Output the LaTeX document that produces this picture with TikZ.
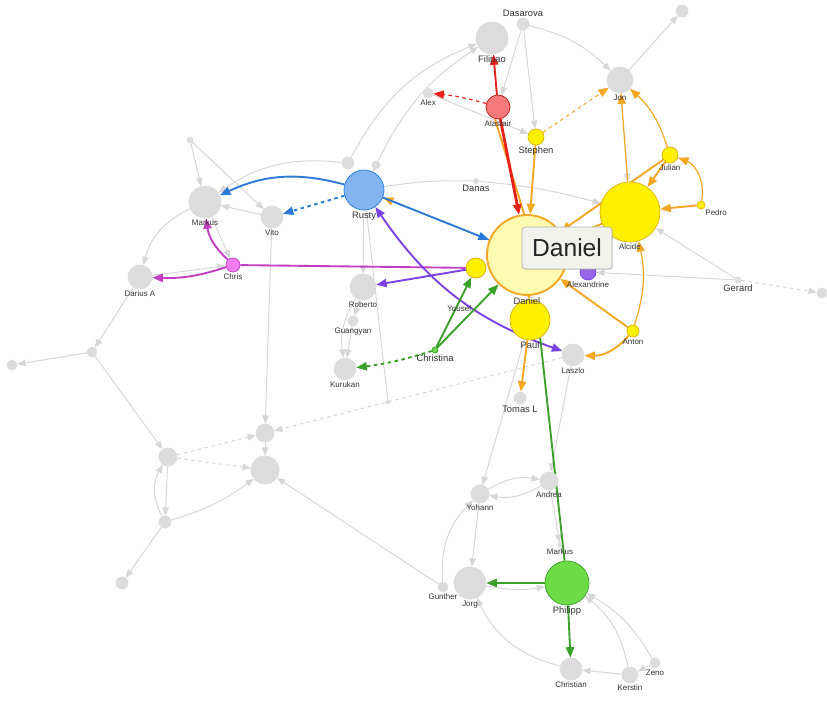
\documentclass[tikz,border=0pt]{standalone}
\usepackage{fontspec}
\setsansfont{Liberation Sans}
\usepackage{tikz}
\usetikzlibrary{arrows.meta,backgrounds,shadows}
\definecolor{NetGray}{HTML}{DCDCDC}
\definecolor{NetLine}{HTML}{D6D6D6}
\definecolor{NetInk}{HTML}{333333}
\definecolor{NetYellow}{HTML}{FFF000}
\definecolor{NetYellowLine}{HTML}{E0B000}
\definecolor{NetPale}{HTML}{FFFBB0}
\definecolor{NetOrange}{HTML}{F5A623}
\definecolor{NetRed}{HTML}{E8201A}
\definecolor{NetRedFill}{HTML}{F77A7A}
\definecolor{NetBlue}{HTML}{2A7AD5}
\definecolor{NetBlueFill}{HTML}{82B4F2}
\definecolor{NetMagenta}{HTML}{C23FC2}
\definecolor{NetMagentaFill}{HTML}{F07EF0}
\definecolor{NetPurple}{HTML}{7B42E3}
\definecolor{NetGreen}{HTML}{3AA02A}
\definecolor{NetGreenFill}{HTML}{6CDB45}
\definecolor{NetTip}{HTML}{F2F2EC}
\tikzset{
  netlabel/.style={font=\sffamily\fontsize{8}{9}\selectfont, text=NetInk, inner sep=1pt},
  netsmall/.style={font=\sffamily\fontsize{6.8}{8}\selectfont, text=NetInk, inner sep=1pt},
  netnode/.style={circle, inner sep=0pt, line width=0.6pt, minimum size=2*#1*0.03cm},
  graynode/.style={netnode=#1, fill=NetGray, draw=NetGray},
  yellownode/.style={netnode=#1, fill=NetYellow, draw=NetYellowLine},
  danielnode/.style={netnode=#1, fill=NetPale, draw=NetOrange, line width=1.6pt},
  rednode/.style={netnode=#1, fill=NetRedFill, draw=NetRed!80!black},
  bluenode/.style={netnode=#1, fill=NetBlueFill, draw=NetBlue},
  magnode/.style={netnode=#1, fill=NetMagentaFill, draw=NetMagenta},
  purnode/.style={netnode=#1, fill=NetPurple!80, draw=NetPurple},
  greennode/.style={netnode=#1, fill=NetGreenFill, draw=NetGreen},
  tipbox/.style={draw=black!30, fill=NetTip, rounded corners=3pt, line width=0.6pt,
    minimum width=2.7cm, minimum height=1.26cm, font=\sffamily\fontsize{21}{24}\selectfont,
    text=black!85, drop shadow={opacity=0.2, shadow xshift=1pt, shadow yshift=-1pt}},
  grayedge/.style={draw=NetLine, line width=0.8pt, -{Triangle[length=7pt,width=5.5pt]}},
  coloredge/.style={line width=1.6pt, -{Triangle[length=9pt,width=7pt]}},
  rededge/.style={coloredge, draw=NetRed},
  orangeedge/.style={coloredge, draw=NetOrange},
  blueedge/.style={coloredge, draw=NetBlue},
  magedge/.style={coloredge, draw=NetMagenta},
  puredge/.style={coloredge, draw=NetPurple},
  greenedge/.style={coloredge, draw=NetGreen}
}
\begin{document}
\begin{tikzpicture}[x=0.03cm, y=-0.03cm]
\useasboundingbox (0,0) rectangle (827,712);
% gray nodes
\node[graynode=16, label={[netlabel]below:Filipao}] (fil) at (492,38) {};
\node[graynode=6, label={[netlabel]above:Dasarova}] (dsv) at (523,24) {};
\node[graynode=5, label={[netsmall]below:Alex}] (alx) at (428,93) {};
\node[graynode=13, label={[netsmall]below:Jon}] (jon) at (620,80) {};
\node[graynode=6] (tpr) at (682,11) {};
\node[graynode=2.5, label={[netlabel]below:Danas}] (dns) at (476,181) {};
\node[graynode=3, label={[netlabel]below:Gerard}] (ger) at (738,280) {};
\node[graynode=5] (far) at (822,293) {};
\node[graynode=11, label={[netsmall]below:Laszlo}] (las) at (573,355) {};
\node[graynode=6, label={[netlabel]below:Tomas L}] (tom) at (520,398) {};
\node[graynode=16, label={[netsmall]below:Markus}] (mar) at (205,202) {};
\node[graynode=11, label={[netsmall]below:Vito}] (vit) at (272,217) {};
\node[graynode=12, label={[netsmall]below:Darius A}] (dar) at (140,277) {};
\node[graynode=13, label={[netsmall]below:Roberto}] (rob) at (363,287) {};
\node[graynode=5, label={[netsmall]below:Guangyan}] (gua) at (353,321) {};
\node[graynode=11, label={[netsmall]below:Kurukan}] (kur) at (345,369) {};
\node[graynode=5] (gcl) at (92,352) {};
\node[graynode=5] (gfl) at (12,365) {};
\node[graynode=9] (gmd) at (168,457) {};
\node[graynode=9] (gtp) at (265,433) {};
\node[graynode=14] (gbg) at (265,470) {};
\node[graynode=6] (glo) at (165,522) {};
\node[graynode=6] (gbl) at (122,583) {};
\node[graynode=2] (jct) at (388,402) {};
\node[graynode=3] (gta) at (190,140) {};
\node[graynode=6] (gtb) at (348,163) {};
\node[graynode=4] (gtc) at (376,165) {};
\node[graynode=9, label={[netsmall]below:Yohann}] (yoh) at (480,494) {};
\node[graynode=9, label={[netsmall]below:Andrea}] (adr) at (549,481) {};
\node[graynode=2, label={[netsmall]below:Markus}] (mk2) at (560,545) {};
\node[graynode=16, label={[netsmall]below:Jorg}] (jor) at (470,583) {};
\node[graynode=5, label={[netsmall]below:Gunther}] (gun) at (443,587) {};
\node[graynode=11, label={[netsmall]below:Christian}] (chn) at (571,669) {};
\node[graynode=8, label={[netsmall]below:Kerstin}] (ker) at (630,675) {};
\node[graynode=5, label={[netsmall]below:Zeno}] (zen) at (655,663) {};
% coloured nodes
\node[rednode=12, label={[netsmall]below:Alastair}] (ala) at (498,107) {};
\node[yellownode=8, label={[netlabel]below:Stephen}] (ste) at (536,137) {};
\node[yellownode=8, label={[netsmall]below:Julian}] (jul) at (670,155) {};
\node[yellownode=4, label={[netsmall]below right:Pedro}] (ped) at (701,205) {};
\node[yellownode=30, label={[netsmall]below:Alcide}] (alc) at (630,212) {};
\node[yellownode=20, label={[netlabel]below:Paul}] (pau) at (530,320) {};
\node[danielnode=40, label={[netlabel]below:Daniel}] (dan) at (527,255) {};
\node[purnode=8, label={[netsmall]below:Alexandrine}] (axd) at (588,272) {};
\node[yellownode=10, label={[netsmall,label distance=22pt]265:Yousef}] (you) at (476,268) {};
\node[yellownode=6, label={[netsmall]below:Anton}] (ant) at (633,331) {};
\node[bluenode=20, label={[netlabel]below:Rusty}] (rus) at (364,190) {};
\node[magnode=7, label={[netsmall]below:Chris}] (chr) at (233,265) {};
\node[greennode=3, label={[netlabel]below:Christina}] (cna) at (435,350) {};
\node[greennode=22, label={[netlabel]below:Philipp}] (phi) at (567,583) {};
\begin{scope}[on background layer]
\fill[white] (0,0) rectangle (827,712);
% gray links
\draw[grayedge] (dsv) -- (ste);
\draw[grayedge] (dsv) to[bend left=15] (jon);
\draw[grayedge] (dsv) -- (ala);
\draw[grayedge] (gtb) to[bend left=20] (fil);
\draw[grayedge] (gtc) to[bend left=15] (fil);
\draw[grayedge] (alx) -- (ste);
\draw[grayedge] (jon) -- (tpr);
\draw[grayedge] (jon) -- (alc);
\draw[grayedge] (ger) -- (alc);
\draw[grayedge] (ger) -- (axd);
\draw[grayedge, dashed] (ger) -- (far);
\draw[grayedge, -] (rus) to[bend left=5] (dns);
\draw[grayedge] (dns) to[bend left=5] (alc);
\draw[grayedge] (gtc) -- (rus);
\draw[grayedge, -] (rus) -- (jct);
\draw[grayedge, dashed] (las) -- (gtp);
\draw[grayedge] (rus) -- (rob);
\draw[grayedge] (rob) -- (gua);
\draw[grayedge] (gua) -- (kur);
\draw[grayedge] (rob) to[bend right=20] (kur);
\draw[grayedge] (vit) -- (gtp);
\draw[grayedge] (gta) -- (mar);
\draw[grayedge] (gta) -- (vit);
\draw[grayedge] (vit) -- (mar);
\draw[grayedge] (mar) -- (chr);
\draw[grayedge] (dar) -- (chr);
\draw[grayedge] (mar) to[bend right=25] (dar);
\draw[grayedge] (gtb) to[bend right=20] (mar);
\draw[grayedge] (dar) -- (gcl);
\draw[grayedge] (gcl) -- (gfl);
\draw[grayedge] (gcl) -- (gmd);
\draw[grayedge, dashed] (gmd) -- (gtp);
\draw[grayedge, dashed] (gmd) -- (gbg);
\draw[grayedge] (gmd) -- (glo);
\draw[grayedge] (glo) to[bend left=30] (gmd);
\draw[grayedge] (glo) to[bend right=10] (gbg);
\draw[grayedge] (glo) -- (gbl);
\draw[grayedge] (gtp) -- (gbg);
\draw[grayedge] (gun) -- (gbg);
\draw[grayedge] (pau) -- (yoh);
\draw[grayedge] (las) -- (adr);
\draw[grayedge] (yoh) to[bend left=20] (adr);
\draw[grayedge] (adr) to[bend left=20] (yoh);
\draw[grayedge] (yoh) -- (jor);
\draw[grayedge] (adr) -- (mk2);
\draw[grayedge] (jor) to[bend right=10] (phi);
\draw[grayedge] (chn) to[bend left=25] (jor);
\draw[grayedge] (ker) to[bend right=20] (phi);
\draw[grayedge] (zen) to[bend right=15] (phi);
\draw[grayedge] (ker) -- (chn);
\draw[grayedge] (zen) -- (ker);
\draw[grayedge] (gun) to[bend left=25] (yoh);
% coloured links
\draw[orangeedge, -] ([xshift=-2.5pt]ala.south) -- ([xshift=-2.5pt]dan.north);
\draw[rededge] (ala) -- (fil);
\draw[rededge, line width=2.4pt] (ala) -- (dan);
\draw[rededge, dashed, line width=1pt] (ala) to[bend right=5] (alx);
\draw[orangeedge] (ste) -- (dan);
\draw[orangeedge, line width=0.8pt, dashed] (ste) -- (jon);
\draw[orangeedge, line width=1pt, dashed] (dan) -- (rus);
\draw[blueedge] (rus) -- (dan);
\draw[blueedge] (rus) to[bend right=20] (mar);
\draw[blueedge, dashed] (rus) -- (vit);
\draw[magedge] (chr) to[bend left=20] (mar);
\draw[magedge] (chr) to[bend left=10] (dar);
\draw[magedge, -] (chr) -- (you);
\draw[puredge, {Triangle[length=9pt,width=7pt]}-{Triangle[length=9pt,width=7pt]}] (rus) to[bend right=18] (las);
\draw[puredge] (you) -- (rob);
\draw[puredge] (axd) -- (alc);
\draw[greenedge] (cna) -- (you);
\draw[greenedge] (cna) -- (dan);
\draw[greenedge, dashed] (cna) to[bend left=5] (kur);
\draw[greenedge, -] (pau.-60) -- (phi);
\draw[greenedge] (phi) -- (jor);
\draw[greenedge] (phi) -- (chn);
\draw[orangeedge] (jul) -- (dan);
\draw[orangeedge] (jul) -- (alc);
\draw[orangeedge, line width=1pt] (jul) to[bend right=15] (jon);
\draw[orangeedge, line width=1pt] (alc) -- (jon);
\draw[orangeedge] (ped) -- (alc);
\draw[orangeedge, line width=1pt] (ped) to[bend right=40] (jul);
\draw[orangeedge] (alc) -- (dan);
\draw[orangeedge, line width=1pt] (ant) to[bend right=15] (alc);
\draw[orangeedge] (ant) -- (dan);
\draw[orangeedge] (ant) to[bend left=25] (las);
\draw[orangeedge] (dan) -- (pau);
\draw[orangeedge] (pau) -- (tom);
\end{scope}
\node[tipbox] (tip) at (567,248) {Daniel};
\end{tikzpicture}
\end{document}
